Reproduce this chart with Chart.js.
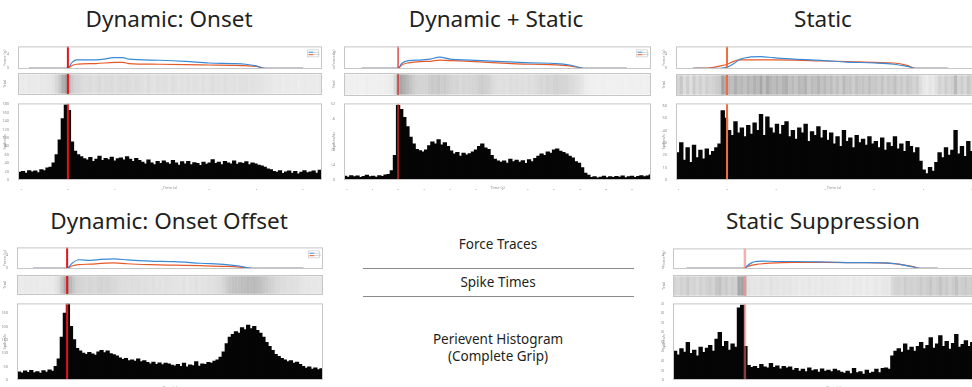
<!DOCTYPE html>
<html>
<head>
<meta charset="utf-8">
<script src="https://cdn.jsdelivr.net/npm/chart.js@4.4.1/dist/chart.umd.min.js"></script>
<style>
html, body { margin: 0; padding: 0; background: #fff; overflow: hidden; }
#fig { position: relative; width: 972px; height: 387px; overflow: hidden; font-family: "Noto Sans", sans-serif; color: #231f20; }
.ttl { position: absolute; font-size: 22.5px; transform: translateX(-50%); white-space: nowrap; line-height: 1; }
.key { position: absolute; font-size: 13.5px; transform: translateX(-50%); white-space: nowrap; text-align: center; line-height: 17px; }
.rule { position: absolute; height: 0; border-top: 1.5px solid #8a8a8a; }
canvas { position: absolute; }
</style>
</head>
<body>
<div id="fig">
  <div class="ttl" style="left:169px;top:8px">Dynamic: Onset</div>
  <div class="ttl" style="left:496px;top:8px">Dynamic + Static</div>
  <div class="ttl" style="left:823px;top:8px">Static</div>
  <div class="ttl" style="left:169px;top:210px">Dynamic: Onset Offset</div>
  <div class="ttl" style="left:823px;top:210px">Static Suppression</div>

  <div class="key" style="left:498px;top:236px">Force Traces</div>
  <div class="rule" style="left:363px;top:268px;width:271px"></div>
  <div class="key" style="left:498px;top:274px">Spike Times</div>
  <div class="rule" style="left:363px;top:296px;width:271px"></div>
  <div class="key" style="left:498px;top:331px">Perievent Histogram<br>(Complete Grip)</div>
</div>
<script>
// force traces (g) at the listed times (s)
const onsetTime   = [-0.83, 0, 0.08, 0.18, 0.6, 1.0, 1.17, 1.3, 1.94, 2.5, 3.0, 3.5, 3.78, 4.0, 4.2, 5.0];
const onsetBlue   = [0, 0, 1.5, 2.3, 2.3, 2.9, 2.9, 2.5, 2.2, 1.9, 1.45, 1.3, 1.1, 0.65, 0, 0];
const onsetOrange = [0, 0, 0.7, 1.1, 1.3, 1.6, 1.6, 1.3, 1.1, 1.0, 0.9, 0.8, 0.7, 0.5, 0, 0];

const dynStatTime   = [-1.4, 0, 0.14, 0.4, 0.85, 1.23, 1.6, 2.0, 2.77, 3.8, 5.1, 6.1, 6.6, 7.2, 8.8];
const dynStatBlue   = [0, 0, 1.3, 2.1, 2.25, 2.5, 3.05, 2.5, 2.25, 1.9, 1.5, 1.3, 0.9, 0, 0];
const dynStatOrange = [0, 0, 0.9, 1.5, 1.85, 1.9, 2.25, 2.1, 1.9, 1.5, 1.1, 0.95, 0.65, 0, 0];

const staticTime   = [-0.7, -0.34, -0.14, 0, 0.14, 0.27, 0.48, 0.68, 0.95, 1.36, 1.97, 2.45, 3.0, 3.4, 3.67, 3.85, 4.5];
const staticBlue   = [0, 0, 0, 0.3, 1.3, 2.5, 3.1, 3.2, 2.9, 2.5, 2.1, 1.7, 1.45, 1.1, 0.5, 0, 0];
const staticOrange = [0, 0.15, 0.65, 1.1, 1.9, 2.3, 2.3, 2.3, 2.3, 2.25, 2.0, 1.85, 1.6, 1.45, 0.8, 0, 0];

const offsetTime   = [-1.3, 0, 0.19, 0.45, 0.9, 1.28, 1.8, 2.3, 3.2, 4.1, 5.1, 6.1, 6.6, 7.1, 9.05];
const offsetBlue   = [0, 0, 1.45, 2.45, 2.3, 2.55, 2.7, 2.4, 2.05, 1.9, 1.45, 1.05, 0.65, 0, 0];
const offsetOrange = [0, 0, 0.65, 1.05, 1.2, 1.4, 1.55, 1.3, 1.05, 0.9, 0.75, 0.55, 0.35, 0, 0];

const suppTime   = [-1.24, 0, 0.04, 0.14, 0.25, 0.39, 0.67, 1.03, 1.74, 2.45, 3.0, 3.3, 3.58, 3.72, 4.1];
const suppBlue   = [0, 0, 0.65, 1.65, 2.1, 2.2, 2.05, 2.05, 1.9, 1.7, 1.65, 1.2, 0.4, 0, 0];
const suppOrange = [0, 0, 0.4, 0.9, 1.2, 1.4, 1.65, 1.8, 1.8, 1.7, 1.55, 1.2, 0.5, 0, 0];

// perievent histograms (spikes/s), first bin start and bin width in s
const onsetHistStart = -1.05, onsetHistBin = 0.065;
const onsetHist = [18,20,16,22,19,21,17,24,22,28,30,
  40,60,95,145,178,165,90,68,60,55,
  50,47,53,44,49,56,46,51,48,54,45,50,52,47,55,49,44,51,46,
  42,38,47,40,36,44,39,45,41,37,46,40,35,43,38,44,36,41,39,34,42,37,40,
  48,39,42,36,44,40,38,45,37,41,39,43,36,40,38,35,33,30,
  26,24,20,18,22,15,19,21,16,20,14,18,22,17,19,21,16,23,20];

const dynStatHistStart = -2.1, dynStatHistBin = 0.12;
const dynStatHist = [12,9,14,10,13,8,11,15,10,12,9,14,11,16,18,
  30,80,245,232,205,175,140,118,100,96,92,98,112,125,118,132,115,122,110,95,85,90,78,88,82,86,92,98,110,118,105,100,80,68,62,58,
  62,55,68,60,65,58,63,54,66,60,
  70,78,85,80,92,88,
  98,102,94,90,85,
  78,72,60,55,
  40,22,15,
  8,10,6,9,12,7,10,8,11,9,13,7,10,12,8,11,14,10,13,16];

const staticHistStart = -1.03, staticHistBin = 0.065;
const staticHist = [22,30,16,26,14,28,18,24,
  17,25,20,23,26,29,
  56,50,
  40,36,47,38,42,35,44,37,
  46,40,53,36,51,42,38,45,
  37,44,47,35,40,33,42,38,45,31,39,36,43,34,40,
  32,38,29,35,27,40,31,34,26,36,30,33,28,35,29,
  31,26,34,24,30,27,35,25,29,23,31,27,22,26,
  15,8,5,10,7,14,
  22,18,26,20,24,40,21,27,19,31,23,25,34,20,28,22,30,24];

const offsetHistStart = -1.9, offsetHistBin = 0.117;
const offsetHist = [30,26,33,28,35,27,31,25,34,29,37,32,
  50,78,160,250,285,200,150,118,108,
  100,95,103,97,92,
  105,110,102,108,98,94,90,
  82,76,80,72,75,70,78,68,72,
  65,60,66,58,63,57,62,60,55,
  52,58,50,62,48,56,53,68,51,
  60,58,65,62,70,75,
  85,105,135,
  160,170,180,175,
  195,188,205,192,200,185,
  175,160,140,125,
  110,95,88,80,
  75,68,72,62,66,58,
  50,44,48,40,45,38,42];

const suppHistStart = -1.52, suppHistBin = 0.068;
const suppHist = [60,52,65,58,78,55,62,50,68,57,
  66,72,60,85,99,70,80,62,75,68,
  150,156,70,
  30,26,28,24,32,27,25,34,26,29,23,28,25,27,
  20,24,18,22,17,25,19,21,16,23,18,20,17,22,19,
  16,14,18,13,24,15,17,12,20,14,16,22,15,24,
  25,22,50,
  60,65,58,75,62,68,60,
  70,78,65,72,88,66,75,92,70,80,64,76,95,68,74,82,70,78,66,90,72,80,75,85];

const forceLabels = ['Grip 1', 'Grip 2'];

const fig = document.getElementById('fig');
const GRAY = '#8f8f8f';
const BLUE = '#3a8ad6';
const ORANGE = '#e65a2a';
const tiny = { size: 4, family: 'Noto Sans' };

const framePlugin = {
  id: 'frame',
  afterDraw(chart) {
    const a = chart.chartArea, ctx = chart.ctx;
    ctx.save();
    ctx.strokeStyle = '#c6c6c6';
    ctx.lineWidth = 1;
    ctx.strokeRect(a.left + 0.5, a.top + 0.5, a.right - a.left - 1, a.bottom - a.top - 1);
    ctx.restore();
  }
};

const miniLegend = {
  id: 'miniLegend',
  afterDraw(chart) {
    const a = chart.chartArea, ctx = chart.ctx;
    const x = a.right - 15, y = a.top + 3;
    ctx.save();
    ctx.fillStyle = '#fff';
    ctx.fillRect(x, y, 12, 8);
    ctx.strokeStyle = '#c0c0c0';
    ctx.lineWidth = 0.6;
    ctx.strokeRect(x + 0.5, y + 0.5, 11, 7);
    ctx.lineWidth = 1;
    ctx.strokeStyle = BLUE;
    ctx.beginPath(); ctx.moveTo(x + 1.5, y + 2.8); ctx.lineTo(x + 6.5, y + 2.8); ctx.stroke();
    ctx.strokeStyle = ORANGE;
    ctx.beginPath(); ctx.moveTo(x + 1.5, y + 5.3); ctx.lineTo(x + 6.5, y + 5.3); ctx.stroke();
    ctx.fillStyle = '#999';
    ctx.font = '2px Noto Sans';
    ctx.fillText(forceLabels[0], x + 7, y + 3.5);
    ctx.fillText(forceLabels[1], x + 7, y + 6);
    ctx.restore();
  }
};

function addCanvas(left, top, w, h) {
  const c = document.createElement('canvas');
  c.width = w; c.height = h;
  c.style.left = left + 'px';
  c.style.top = top + 'px';
  fig.appendChild(c);
  return c;
}

function xAxis(p, xh, labels, title) {
  return {
    type: 'linear', min: p.tMin, max: p.tMax, display: xh > 0, offset: false,
    grid: { display: false, offset: false }, border: { display: false },
    ticks: { display: labels, stepSize: 1, includeBounds: false, font: tiny, color: GRAY, maxRotation: 0, autoSkip: false, padding: 0 },
    title: { display: !!title, text: title, font: tiny, color: GRAY, padding: 0 },
    afterFit(s) { s.height = xh; }
  };
}

function yAxis(min, max, step, title, yw, labels) {
  return {
    min, max,
    grid: { display: false }, border: { display: false },
    ticks: { display: labels, stepSize: step, includeBounds: false, font: tiny, color: GRAY, padding: 1 },
    title: { display: true, text: title, font: tiny, color: GRAY, padding: 0 },
    afterFit(s) { s.width = yw; }
  };
}

function baseOptions(scales, bottomPad) {
  return {
    responsive: false, animation: false,
    layout: { padding: { top: 1, right: 1, bottom: bottomPad || 0, left: 0 } },
    plugins: { legend: { display: false }, tooltip: { enabled: false } },
    scales
  };
}

function redLine(p, y0, y1) {
  return {
    type: 'line', order: 0,
    data: [{ x: 0, y: y0 }, { x: 0, y: y1 }],
    borderColor: p.red, borderWidth: p.redW, pointRadius: 0
  };
}

function points(times, values) {
  return times.map((t, i) => ({ x: t, y: values[i] }));
}

function bins(start, width, values) {
  return values.map((v, i) => ({ x: start + width * (i + 0.5), y: v }));
}

function drawPanel(p) {
  const yw = p.boxL - p.left;
  const w = p.boxR - p.left + 1;

  // force traces
  const fxh = 5;
  new Chart(addCanvas(p.left, p.force[0] - 1, w, p.force[1] - p.force[0] + 1 + fxh), {
    type: 'line',
    data: { datasets: [
      { data: points(p.time, p.blue), borderColor: BLUE, borderWidth: 1.2, pointRadius: 0, cubicInterpolationMode: 'monotone', order: 1 },
      { data: points(p.time, p.orange), borderColor: ORANGE, borderWidth: 1.2, pointRadius: 0, cubicInterpolationMode: 'monotone', order: 2 },
      redLine(p, -0.3, 6.2)
    ] },
    options: baseOptions({ x: xAxis(p, fxh, true, ''), y: yAxis(-0.2, 6, 2, 'Force (g)', yw, true) }),
    plugins: [framePlugin, miniLegend]
  });

  // spike raster shading, darker where the histogram is higher
  const maxH = Math.max(...p.hist);
  const rasterBins = p.hist.map((v, i) => ({ x: p.hStart + p.hBin * (i + 0.5), y: [0.06, 0.94] }));
  const rasterCols = p.hist.map(v => 'rgba(60,60,60,' + (0.06 + 0.42 * v / maxH).toFixed(3) + ')');
  new Chart(addCanvas(p.left, p.raster[0] - 1, w, p.raster[1] - p.raster[0] + 2), {
    type: 'bar',
    data: { datasets: [
      { data: rasterBins, backgroundColor: rasterCols, borderWidth: 0, inflateAmount: 0, barPercentage: 1, categoryPercentage: 1, order: 1 },
      redLine(p, 0, 1)
    ] },
    options: baseOptions({ x: xAxis(p, 0, false, ''), y: yAxis(0, 1, 1, 'Trial', yw, false) }, 1),
    plugins: [framePlugin]
  });

  // perievent histogram
  const hxh = 10;
  new Chart(addCanvas(p.left, p.histY[0] - 1, w, p.histY[1] - p.histY[0] + 1 + hxh), {
    type: 'bar',
    data: { datasets: [
      { data: bins(p.hStart, p.hBin, p.hist), backgroundColor: '#050505', borderWidth: 0, inflateAmount: 0.6, barPercentage: 1, categoryPercentage: 1, order: 1 },
      redLine(p, 0, p.hMax)
    ] },
    options: baseOptions({ x: xAxis(p, hxh, true, 'Time (s)'), y: yAxis(0, p.hMax, p.hStep, 'Spikes/s', yw, true) }),
    plugins: [framePlugin]
  });
}

drawPanel({ left: 2, boxL: 18, boxR: 322, force: [44, 69], raster: [73, 95], histY: [101, 180],
  tMin: -1.06, tMax: 5.4, red: '#e3141b', redW: 2,
  time: onsetTime, blue: onsetBlue, orange: onsetOrange,
  hStart: onsetHistStart, hBin: onsetHistBin, hist: onsetHist, hMax: 182, hStep: 20 });

drawPanel({ left: 331, boxL: 344, boxR: 651, force: [44, 69], raster: [73, 96], histY: [101, 180],
  tMin: -2.08, tMax: 9.73, red: '#d9302f', redW: 1.3,
  time: dynStatTime, blue: dynStatBlue, orange: dynStatOrange,
  hStart: dynStatHistStart, hBin: dynStatHistBin, hist: dynStatHist, hMax: 252, hStep: 50 });

drawPanel({ left: 661, boxL: 676, boxR: 992, force: [44, 69], raster: [74, 96], histY: [101, 180],
  tMin: -1.04, tMax: 5.4, red: '#f26a3f', redW: 2,
  time: staticTime, blue: staticBlue, orange: staticOrange,
  hStart: staticHistStart, hBin: staticHistBin, hist: staticHist, hMax: 62, hStep: 10 });

drawPanel({ left: 2, boxL: 17, boxR: 323, force: [245, 269], raster: [275, 295], histY: [301, 380],
  tMin: -1.92, tMax: 9.8, red: '#e3141b', redW: 2,
  time: offsetTime, blue: offsetBlue, orange: offsetOrange,
  hStart: offsetHistStart, hBin: offsetHistBin, hist: offsetHist, hMax: 287, hStep: 50 });

drawPanel({ left: 661, boxL: 673, boxR: 994, force: [246, 269], raster: [275, 297], histY: [301, 380],
  tMin: -1.53, tMax: 5.3, red: 'rgba(236,110,110,0.55)', redW: 2.5,
  time: suppTime, blue: suppBlue, orange: suppOrange,
  hStart: suppHistStart, hBin: suppHistBin, hist: suppHist, hMax: 160, hStep: 20 });
</script>
</body>
</html>
